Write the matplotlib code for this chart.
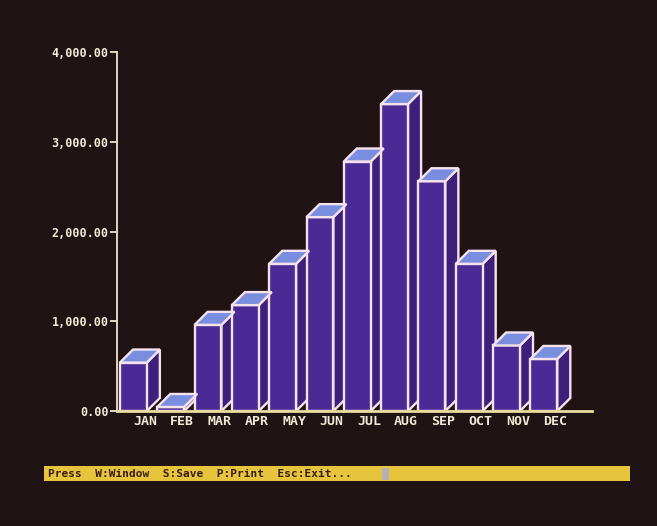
import matplotlib.pyplot as plt
from matplotlib.patches import Polygon, Rectangle

# Data
months = ['JAN', 'FEB', 'MAR', 'APR', 'MAY', 'JUN', 'JUL', 'AUG', 'SEP', 'OCT', 'NOV', 'DEC']
values = [540, 45, 960, 1180, 1640, 2160, 2780, 3420, 2560, 1640, 730, 580]
y_ticks = [0, 1000, 2000, 3000, 4000]
y_tick_labels = ['0.00', '1,000.00', '2,000.00', '3,000.00', '4,000.00']
status_text = 'Press  W:Window  S:Save  P:Print  Esc:Exit...'

bg = '#1f1314'
front_col = '#4a2a94'
side_col = '#3c207c'
top_col = '#7a8ee0'
edge_col = '#f6e2ec'
text_col = '#f2ead6'
mono = 'DejaVu Sans Mono'

fig = plt.figure(figsize=(6.57, 5.26), dpi=100, facecolor=bg)
ax = fig.add_axes([0.178, 0.2186, 0.723, 0.6825])
ax.set_facecolor(bg)

width = 0.72
dx, dy = 0.35, 145  # depth of the 3d effect in data units

x = list(range(len(months)))
ax.bar(x, values, width=width, color=front_col, edgecolor=edge_col, linewidth=1.7, zorder=3)

for xi, v in zip(x, values):
    left = xi - width / 2
    right = xi + width / 2
    top = Polygon([(left, v), (right, v), (right + dx, v + dy), (left + dx, v + dy)],
                  closed=True, facecolor=top_col, edgecolor=edge_col, linewidth=1.7, zorder=4)
    side = Polygon([(right, 0), (right + dx, dy), (right + dx, v + dy), (right, v)],
                   closed=True, facecolor=side_col, edgecolor=edge_col, linewidth=1.7, zorder=2)
    ax.add_patch(side)
    ax.add_patch(top)

ax.set_xlim(-0.44, 12.29)
ax.set_ylim(0, 4000)

# axes styling
for s in ['top', 'right']:
    ax.spines[s].set_visible(False)
ax.spines['left'].set_color('#efe6d0')
ax.spines['left'].set_linewidth(1.3)
ax.spines['bottom'].set_color('#eadca0')
ax.spines['bottom'].set_linewidth(2)
ax.spines['bottom'].set_zorder(5)

ax.set_yticks(y_ticks)
ax.set_yticklabels(y_tick_labels, family=mono, fontweight='bold', fontsize=8.5, color=text_col)
ax.tick_params(axis='y', length=5, width=1.3, color='#efe6d0', pad=1)

ax.set_xticks([xi + 0.31 for xi in x])
ax.set_xticklabels(months, family=mono, fontweight='bold', fontsize=9.5, color=text_col)
ax.tick_params(axis='x', length=0, pad=3)

# status bar at the bottom
fig.patches.append(Rectangle((44 / 657, 1 - 481 / 526), 586 / 657, 15 / 526,
                             transform=fig.transFigure, facecolor='#e6c43c', edgecolor='none'))
fig.text(48 / 657, 1 - 474 / 526, status_text, family=mono, fontweight='bold', fontsize=8,
         color='#3a1c12', va='center', ha='left')
fig.patches.append(Rectangle((382 / 657, 1 - 480 / 526), 7 / 657, 12 / 526,
                             transform=fig.transFigure, facecolor='#b8b0b8', edgecolor='none'))

fig.savefig('out.png', dpi=100, facecolor=bg)
